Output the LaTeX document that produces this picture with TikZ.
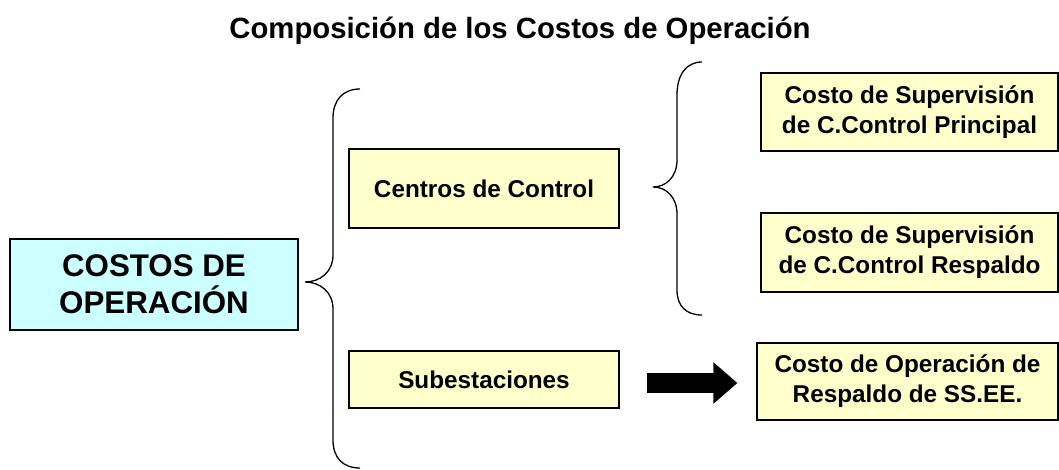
\documentclass[tikz,border=0pt]{standalone}
\usepackage{fontspec}
\setmainfont{Liberation Sans}
\usepackage{tikz}
\usetikzlibrary{arrows.meta,calc}
\definecolor{paleyellow}{RGB}{255,255,204}
\definecolor{palecyan}{RGB}{204,255,255}

\begin{document}
\begin{tikzpicture}[
    x=1pt, y=-1pt,
    box/.style={rectangle, draw=black, line width=1.2pt, fill=paleyellow, align=center, inner sep=0pt,
        font=\fontsize{24.3}{30}\selectfont\bfseries},
    mainbox/.style={box, fill=palecyan, font=\fontsize{31.3}{37}\selectfont\bfseries},
    brace/.style={draw=black, line width=1.3pt},
    bigarrow/.style={-{Triangle[length=24pt, width=40pt]}, line width=20pt, black}
]
    \useasboundingbox (0,0) rectangle (1059,470);

    % Title
    \node[font=\fontsize{29.3}{34}\selectfont\bfseries] (title) at (520,31) {Composición de los Costos de Operación};

    % Main box
    \node[mainbox, minimum width=288pt, minimum height=91pt] (costos) at (154,284.5) {COSTOS DE\\OPERACIÓN};

    % Second level
    \node[box, minimum width=270pt, minimum height=79pt] (centros) at (484,188.5) {Centros de Control};
    \node[box, minimum width=270pt, minimum height=57pt] (subest) at (484,379.5) {Subestaciones};

    % Third level
    \node[box, minimum width=297pt, minimum height=78pt] (principal) at (909.5,112) {Costo de Supervisión\\de C.Control Principal};
    \node[box, minimum width=297pt, minimum height=79pt] (respaldo) at (909.5,252.5) {Costo de Supervisión\\de C.Control Respaldo};
    \node[box, minimum width=301pt, minimum height=77pt] (operss) at (907.5,381.5) {Costo de Operación de\\Respaldo de SS.EE.};

    % Braces
    \draw[brace] (360,89) .. controls (343,89) and (333,100) .. (333,118) -- (333,255)
        .. controls (333,272) and (320,282) .. (305,282)
        .. controls (320,282) and (333,292) .. (333,309) -- (333,440)
        .. controls (333,458) and (343,468) .. (360,468);
    \draw[brace] (702,62) .. controls (686,62) and (677,75) .. (677,95) -- (677,160)
        .. controls (677,177) and (666,187) .. (653,187)
        .. controls (666,187) and (677,197) .. (677,214) -- (677,290)
        .. controls (677,306) and (686,315) .. (702,315);

    % Arrow
    \draw[bigarrow, shorten <=27pt, shorten >=19pt] ($(subest.east |- operss.west)+(0,1.5)$) -- ($(operss.west)+(0,1.5)$);
\end{tikzpicture}
\end{document}
